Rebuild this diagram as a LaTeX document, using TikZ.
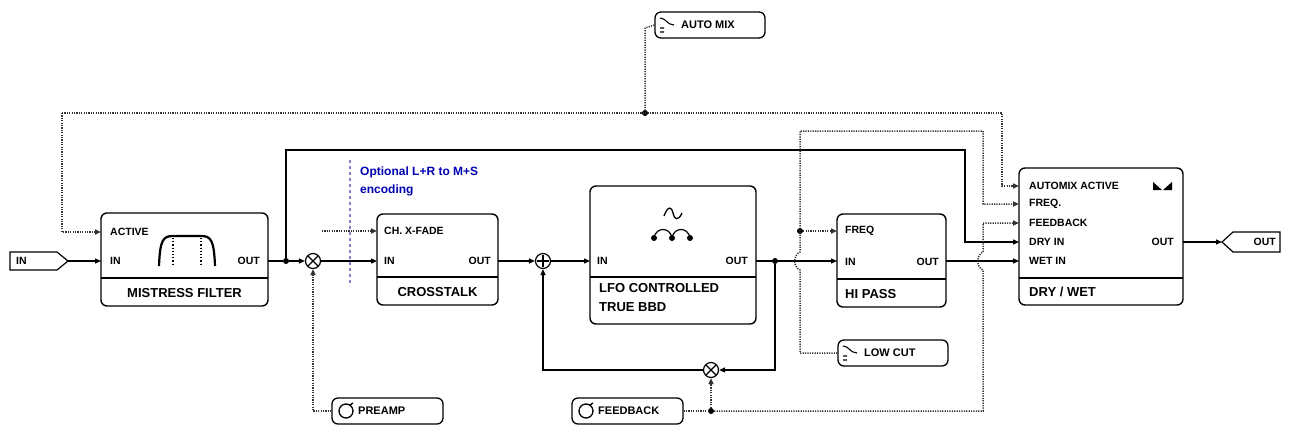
\documentclass[tikz,border=0pt]{standalone}
\usepackage{fontspec}
\setmainfont{Liberation Sans}
\usetikzlibrary{arrows.meta}
\begin{document}
\begin{tikzpicture}[x=1pt,y=-1pt,
  box/.style={draw,line width=1.4pt,rounded corners=6pt},
  port/.style={font=\fontsize{10.5}{12}\selectfont\bfseries,inner sep=0pt},
  ttl/.style={font=\fontsize{13}{15}\selectfont\bfseries,inner sep=0pt,align=left},
  sig/.style={line width=1.3pt},
  ctl/.style={line width=1.5pt,dash pattern=on 1.2pt off 1.2pt,black!80},
  tip/.style={-{Triangle[length=6pt,width=5pt]}},
  jdot/.style={circle,fill,inner sep=0pt,minimum size=6pt},
  opn/.style={circle,draw,line width=1.2pt,inner sep=0pt,minimum size=15pt},
  ctrl/.style={draw,line width=1.3pt,rounded corners=6pt,minimum height=26pt,inner sep=0pt},
  cfont/.style={font=\fontsize{11}{12}\selectfont\bfseries}
]
\useasboundingbox (0,0) rectangle (1290,432);
% IN / OUT tags
\draw[line width=1.2pt] (10,252)--(57,252)--(68,261)--(57,270)--(10,270)--cycle;
\node[port,anchor=west] (intxt) at (16,261) {IN};
\coordinate (intag) at (68,261);
\draw[line width=1.2pt] (1222,242)--(1233,232)--(1280,232)--(1280,252)--(1233,252)--cycle;
\node[port,anchor=east] (outtxt) at (1276,242) {OUT};
\coordinate (outtag) at (1222,242);
% Mistress filter
\node[box,minimum width=167pt,minimum height=93pt] (mf) at (184.5,259.5) {};
\draw[line width=1.2pt] (101,278)--(268,278);
\node[port,anchor=west] (mfa) at (110,232) {ACTIVE};
\node[port,anchor=west] (mfi) at (110,261) {IN};
\node[port,anchor=east] (mfo) at (260,261) {OUT};
\node[ttl] (mft) at (184.5,293) {MISTRESS FILTER};
\draw[line width=2.2pt] (159,266)..controls (160,240) and (163,236) .. (173,236)--(201,236)..controls (211,236) and (214,240)..(215,266);
\draw[line width=1.2pt,dotted] (173,238)--(173,265) (201,238)--(201,265);
\coordinate (mfA) at (101,232); \coordinate (mfI) at (101,261); \coordinate (mfO) at (268,261);
% multiply preamp
\node[jdot] (j1) at (286,261) {};
\node[opn] (mul1) at (313,261) {};
\draw[line width=1.2pt] (308,256)--(318,266) (318,256)--(308,266);
% blue dashed
\draw[blue!60!black!50,line width=1.1pt,dashed] (350,160)--(350,286);
\node[font=\fontsize{12}{18}\selectfont\bfseries,text=blue!70!black,anchor=north west,align=left,inner sep=0pt] (opt) at (360,167) {Optional L+R to M+S\\encoding};
% crosstalk
\node[box,minimum width=121pt,minimum height=91pt] (ct) at (437.5,259.5) {};
\draw[line width=1.2pt] (377,277)--(498,277);
\node[port,anchor=west] (cta) at (384,231) {CH. X-FADE};
\node[port,anchor=west] (cti) at (384,261) {IN};
\node[port,anchor=east] (cto) at (491,261) {OUT};
\node[ttl] (ctt) at (437.5,292) {CROSSTALK};
\coordinate (ctA) at (377,231); \coordinate (ctI) at (377,261); \coordinate (ctO) at (498,261);
\coordinate (xf) at (322,231);
% plus
\node[opn] (add) at (543,261) {};
\draw[line width=1.2pt] (537,261)--(549,261) (543,255)--(543,267);
% LFO
\node[box,minimum width=166pt,minimum height=138pt] (lfo) at (673,255) {};
\draw[line width=1.2pt] (590,277)--(756,277);
\node[port,anchor=west] (lfi) at (597,261) {IN};
\node[port,anchor=east] (lfoo) at (748,261) {OUT};
\node[ttl,anchor=north west,font=\fontsize{13}{19}\selectfont\bfseries] (lft) at (599,283) {LFO CONTROLLED\\TRUE BBD};
\draw[line width=1.3pt] (664,216)..controls (668,205) and (672,207) .. (673,213) .. controls (674,219) and (678,222) .. (682,213);
\node[jdot] (d1) at (654,238) {}; \node[jdot] (d2) at (672,238) {}; \node[jdot] (d3) at (690,238) {};
\draw[line width=1.2pt] (654,237)..controls (657,227) and (669,227)..(672,237) .. controls (675,227) and (687,227) .. (690,237);
\coordinate (lfI) at (590,261); \coordinate (lfO) at (756,261);
\node[jdot] (j2) at (775,261) {};
% feedback mult
\node[opn] (mul2) at (711,370) {};
\draw[line width=1.2pt] (706,365)--(716,375) (716,365)--(706,375);
% hi pass
\node[box,minimum width=109pt,minimum height=93pt] (hp) at (891.5,260.5) {};
\draw[line width=1.2pt] (837,279)--(946,279);
\node[port,anchor=west] (hpf) at (845,231) {FREQ};
\node[port,anchor=west] (hpi) at (845,262) {IN};
\node[port,anchor=east] (hpo) at (939,262) {OUT};
\node[ttl,anchor=west] (hpt) at (845,294) {HI PASS};
\coordinate (hpF) at (837,231); \coordinate (hpI) at (837,261); \coordinate (hpO) at (946,261);
% dry wet
\node[box,minimum width=164pt,minimum height=137pt] (dw) at (1101,236.5) {};
\draw[line width=1.2pt] (1019,278)--(1183,278);
\node[port,anchor=west] (dwa) at (1029,186) {AUTOMIX ACTIVE};
\node[port,anchor=west] (dwf) at (1029,204) {FREQ.};
\node[port,anchor=west] (dwb) at (1029,223) {FEEDBACK};
\node[port,anchor=west] (dwd) at (1029,242) {DRY IN};
\node[port,anchor=west] (dwi) at (1029,261) {WET IN};
\node[port,anchor=east] (dwo) at (1174,242) {OUT};
\node[ttl,anchor=west] (dwt) at (1029,292) {DRY / WET};
\fill (1153,182)--(1153,190)--(1162,190)--cycle (1172,182)--(1172,190)--(1163,190)--cycle;
\coordinate (dwA) at (1019,186); \coordinate (dwF) at (1019,204); \coordinate (dwB) at (1019,223);
\coordinate (dwD) at (1019,242); \coordinate (dwI) at (1019,261); \coordinate (dwO) at (1183,242);
% control boxes
\node[ctrl,minimum width=111pt] (pre) at (387.5,411) {};
\draw[line width=1.3pt] (346,411) circle[radius=7]; \draw[line width=1.3pt] (350,405)--(353,403);
\node[port,anchor=west,cfont] (pret) at (358,411) {PREAMP};
\node[ctrl,minimum width=111pt] (fb) at (627.5,411) {};
\draw[line width=1.3pt] (586,411) circle[radius=7]; \draw[line width=1.3pt] (590,405)--(593,403);
\node[port,anchor=west,cfont] (fbt) at (598,411) {FEEDBACK};
\node[ctrl,minimum width=110pt] (lc) at (893,353) {};
\draw[line width=1.1pt] (843,346)..controls (849,346) and (850,353) .. (857,353) (843,356)--(847,356) (843,360)--(847,360);
\node[port,anchor=west,cfont] (lct) at (864,353) {LOW CUT};
\node[ctrl,minimum width=110pt] (am) at (710,25) {};
\draw[line width=1.1pt] (660,18)..controls (666,18) and (667,25) .. (674,25) (660,28)--(664,28) (660,32)--(664,32);
\node[port,anchor=west,cfont] (amt) at (681,25) {AUTO MIX};
% signal path
\draw[sig,tip] (intag)--(mfI);
\draw[sig] (mfO)--(j1);
\draw[sig,tip] (j1)--(mul1);
\draw[sig,tip] (mul1)--(ctI);
\draw[sig,tip] (ctO)--(add);
\draw[sig,tip] (add)--(lfI);
\draw[sig] (lfO)--(j2);
\draw[sig,tip] (j2)--(hpI);
\draw[sig,tip] (hpO)--(dwI);
\draw[sig,tip] (dwO)--(outtag);
\draw[sig,tip] (j1)--(286,150)--(965,150)--(965,242)--(dwD);
\draw[sig,tip] (j2)--(775,370)--(mul2);
\draw[sig,tip] (mul2)--(543,370)--(add);
% controls
\node[jdot] (j3) at (645,113) {};
\draw[ctl] (am.west)--(645,28)--(j3);
\draw[ctl,tip] (62,113)--(1002,113)--(1002,186)--(dwA);
\draw[ctl,tip] (62,113)--(62,232)--(mfA);
\draw[ctl,tip] (pre.west)--(313,411)--(mul1);
\draw[ctl,tip] (xf)--(ctA);
\node[jdot] (j4) at (711,411) {};
\draw[ctl,tip] (j4)--(mul2);
\draw[ctl] (fb.east)--(j4);
\draw[ctl,tip] (j4)--(983,411)--(983,270)..controls (976,267) and (976,255)..(983,252)--(983,223)--(dwB);
\node[jdot] (j5) at (800,231) {};
\draw[ctl,tip] (j5)--(hpF);
\draw[ctl,tip] (lc.west)--(800,353)--(800,270)..controls (793,267) and (793,255)..(800,252)--(800,131)--(983,131)--(983,204)--(dwF);
\end{tikzpicture}
\end{document}
